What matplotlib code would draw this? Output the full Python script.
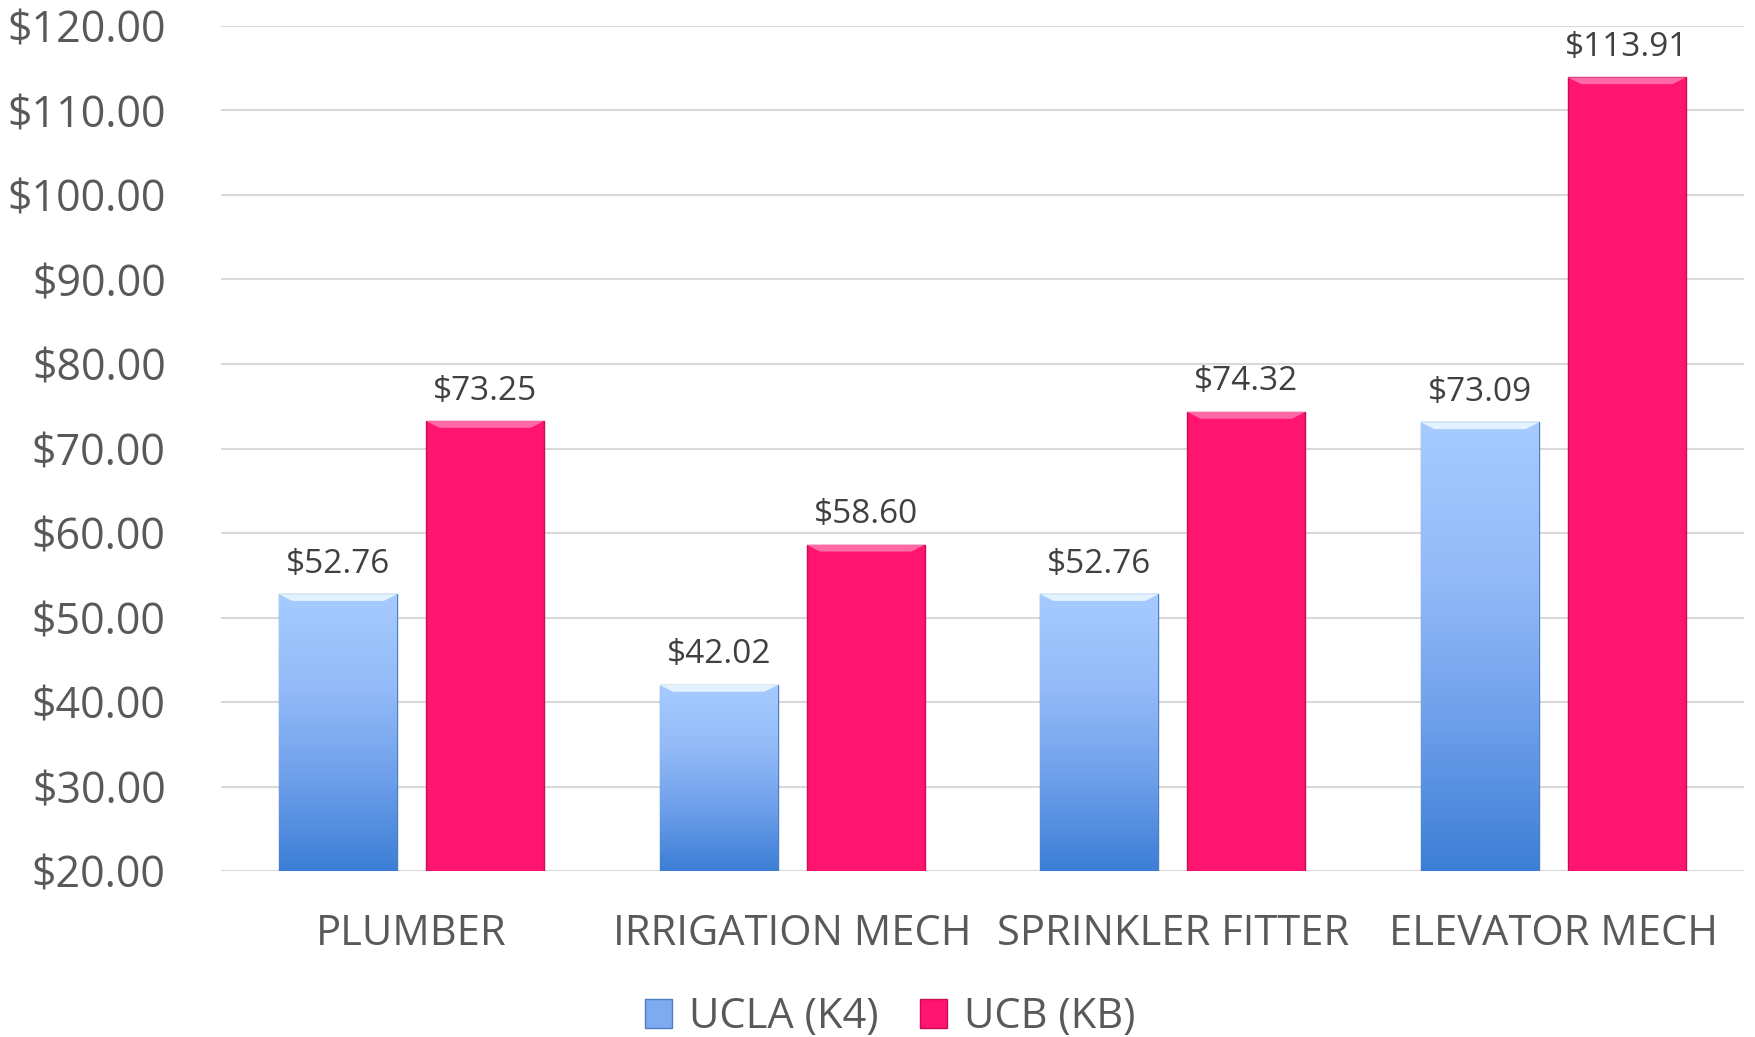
import matplotlib
matplotlib.use("Agg")
from matplotlib import pyplot as plt
from matplotlib.patches import Polygon, Patch
from matplotlib.colors import LinearSegmentedColormap
import numpy as np

categories = ["PLUMBER", "IRRIGATION MECH", "SPRINKLER FITTER", "ELEVATOR MECH"]
ucla = [52.76, 42.02, 52.76, 73.09]
ucb = [73.25, 58.60, 74.32, 113.91]
series_names = ["UCLA (K4)", "UCB (KB)"]

plt.rcParams['font.family'] = ['Open Sans', 'DejaVu Sans']
text_gray = '#595959'

fig = plt.figure(figsize=(17.56, 10.37), dpi=100)
ax = fig.add_axes([0.126, 0.160, 0.867, 0.815])

x = np.arange(len(categories))
w = 0.31
off = 0.193
ymin = 20

blue_cmap = LinearSegmentedColormap.from_list('b', ['#3c7ed6', '#6e9fea', '#94bbf8', '#a6cbff'])
pink = '#ff1470'

bars_a = ax.bar(x - off, np.array(ucla) - ymin, w, bottom=ymin, color='#8ab4f8',
                edgecolor='#4f7fc0', linewidth=1.0, zorder=3)
bars_b = ax.bar(x + off, np.array(ucb) - ymin, w, bottom=ymin, color=pink,
                edgecolor='#c80c56', linewidth=1.0, zorder=3)

# vertical gradient fill for the UCLA bars
grad = np.linspace(0, 1, 256).reshape(-1, 1)
for b in bars_a:
    x0, y0 = b.get_x(), b.get_y()
    bw, bh = b.get_width(), b.get_height()
    im = ax.imshow(grad, cmap=blue_cmap, aspect='auto', origin='lower',
                   extent=[x0, x0 + bw, y0, y0 + bh], zorder=3.5)
    im.set_clip_path(b)

# bevel highlight on top of bars
for bars, col in [(bars_a, '#e2f2ff'), (bars_b, '#ff6aa6')]:
    for b in bars:
        x0, y0 = b.get_x(), b.get_y()
        bw, bh = b.get_width(), b.get_height()
        top = y0 + bh
        dx, dy = 0.035, 0.8
        ax.add_patch(Polygon([[x0, top], [x0 + bw, top], [x0 + bw - dx, top - dy],
                              [x0 + dx, top - dy]], closed=True, facecolor=col,
                             edgecolor='none', zorder=4))

for bars, vals in [(bars_a, ucla), (bars_b, ucb)]:
    for b, v in zip(bars, vals):
        ax.text(b.get_x() + b.get_width() / 2, v + 1.6, "${:.2f}".format(v),
                ha='center', va='bottom', fontsize=24, color='#404040', zorder=5)

ax.set_xlim(-0.5, len(categories) - 0.5)
ax.set_ylim(20, 120)
ax.set_yticks(np.arange(20, 121, 10))
ax.set_yticklabels(["${:.2f}".format(v) for v in np.arange(20, 121, 10)])
ax.set_xticks(x)
ax.set_xticklabels(categories)
ax.tick_params(axis='y', length=0, pad=40, labelsize=31, labelcolor=text_gray)
ax.tick_params(axis='x', length=0, pad=30, labelsize=30, labelcolor=text_gray)
ax.grid(axis='y', color='#d9d9d9', linewidth=1.5, zorder=0)
ax.set_axisbelow(True)
for s in ax.spines.values():
    s.set_visible(False)

handles = [Patch(facecolor='#7eaaf0', edgecolor='#4f7fc0'),
           Patch(facecolor=pink, edgecolor='#c80c56')]
fig.legend(handles, series_names, loc='center', bbox_to_anchor=(0.507, 0.019),
           ncol=2, frameon=False, fontsize=30, labelcolor=text_gray,
           handlelength=0.65, handleheight=0.7, handletextpad=0.4, columnspacing=1.0)

fig.savefig('out.png', dpi=100)
